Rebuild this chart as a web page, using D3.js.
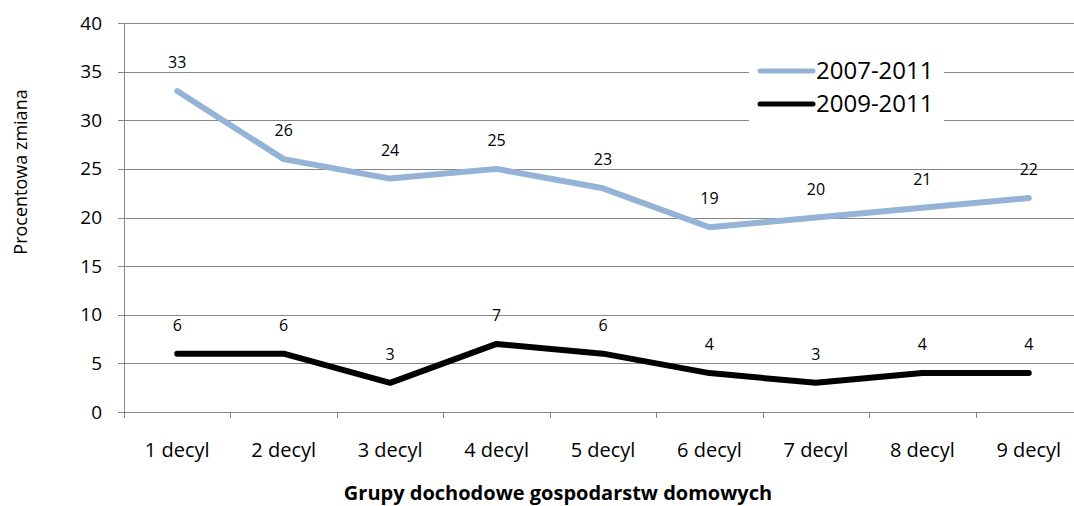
<!DOCTYPE html>
<meta charset="utf-8">
<style>
body { margin: 0; background: #fff; }
svg { display: block; }
svg text { font-family: "Open Sans", sans-serif; }
.axis path, .axis line { fill: none; stroke: #868686; shape-rendering: crispEdges; }
.grid line { stroke: #868686; shape-rendering: crispEdges; }
</style>
<body>
<script src="https://d3js.org/d3.v7.min.js"></script>
<script>

// data
var categories = ["1 decyl", "2 decyl", "3 decyl", "4 decyl", "5 decyl", "6 decyl", "7 decyl", "8 decyl", "9 decyl"];
var seriesNames = ["2007-2011", "2009-2011"];
var values0711 = [33, 26, 24, 25, 23, 19, 20, 21, 22];
var values0911 = [6, 6, 3, 7, 6, 4, 3, 4, 4];
var yTicks = [0, 5, 10, 15, 20, 25, 30, 35, 40];

var colors = ["#95b3d7", "#000000"];

var W = 1074, H = 506;
var plotLeft = 124, plotRight = 1082, plotTop = 23, plotBottom = 412;

var svg = d3.select("body").append("svg")
    .attr("width", W)
    .attr("height", H);

var x = d3.scaleBand().domain(categories).range([plotLeft, plotRight]);
var y = d3.scaleLinear().domain([0, 40]).range([plotBottom, plotTop]);

// horizontal gridlines
svg.append("g").attr("class", "grid")
  .selectAll("line")
  .data(yTicks.slice(1))
  .enter().append("line")
    .attr("x1", plotLeft).attr("x2", plotRight)
    .attr("y1", function(d) { return Math.round(y(d)) + 0.5; })
    .attr("y2", function(d) { return Math.round(y(d)) + 0.5; });

// y axis
var yAxis = svg.append("g").attr("class", "axis")
  .attr("transform", "translate(" + plotLeft + ",0)")
  .call(d3.axisLeft(y).tickValues(yTicks).tickSize(6).tickSizeOuter(0).tickPadding(16));
yAxis.selectAll("text").style("font-size", "19px").attr("fill", "#000");

// x axis, ticks on category boundaries
var xAxis = svg.append("g").attr("class", "axis")
  .attr("transform", "translate(0," + plotBottom + ")")
  .call(d3.axisBottom(x).tickSize(0).tickSizeOuter(0).tickPadding(31));
xAxis.selectAll("text").style("font-size", "20px").attr("fill", "#000");
xAxis.selectAll(".bound")
  .data(categories)
  .enter().append("line")
    .attr("class", "bound")
    .attr("x1", function(d) { return Math.round(x(d)) + 0.5; })
    .attr("x2", function(d) { return Math.round(x(d)) + 0.5; })
    .attr("y1", 0).attr("y2", 6)
    .attr("stroke", "#868686");

// axis titles
svg.append("text")
  .attr("transform", "translate(27,172) rotate(-90)")
  .attr("text-anchor", "middle")
  .style("font-size", "18px")
  .text("Procentowa zmiana");

svg.append("text")
  .attr("x", 558).attr("y", 500)
  .attr("text-anchor", "middle")
  .style("font-size", "20px")
  .style("font-weight", "bold")
  .text("Grupy dochodowe gospodarstw domowych");

// lines
var allSeries = [values0711, values0911];
var line = d3.line()
  .x(function(d, i) { return x(categories[i]) + x.bandwidth() / 2; })
  .y(function(d) { return y(d); });

allSeries.forEach(function(vals, s) {
  svg.append("path")
    .datum(vals)
    .attr("d", line)
    .attr("fill", "none")
    .attr("stroke", colors[s])
    .attr("stroke-width", 6)
    .attr("stroke-linecap", "round")
    .attr("stroke-linejoin", "round");

  svg.selectAll(".lbl" + s)
    .data(vals)
    .enter().append("text")
      .attr("class", "lbl" + s)
      .attr("x", function(d, i) { return x(categories[i]) + x.bandwidth() / 2; })
      .attr("y", function(d) { return y(d) - 23; })
      .attr("text-anchor", "middle")
      .style("font-size", "16px")
      .text(function(d) { return d; });
});

// legend
var legend = svg.append("g").attr("transform", "translate(749,54)");
legend.append("rect")
  .attr("width", 195).attr("height", 70)
  .attr("fill", "#fff");
seriesNames.forEach(function(name, s) {
  var g = legend.append("g").attr("transform", "translate(0," + (17 + s * 33) + ")");
  g.append("line")
    .attr("x1", 11).attr("x2", 64)
    .attr("stroke", colors[s])
    .attr("stroke-width", 5)
    .attr("stroke-linecap", "round");
  g.append("text")
    .attr("x", 67).attr("dy", "0.35em")
    .style("font-size", "24px")
    .text(name);
});

</script>
</body>
